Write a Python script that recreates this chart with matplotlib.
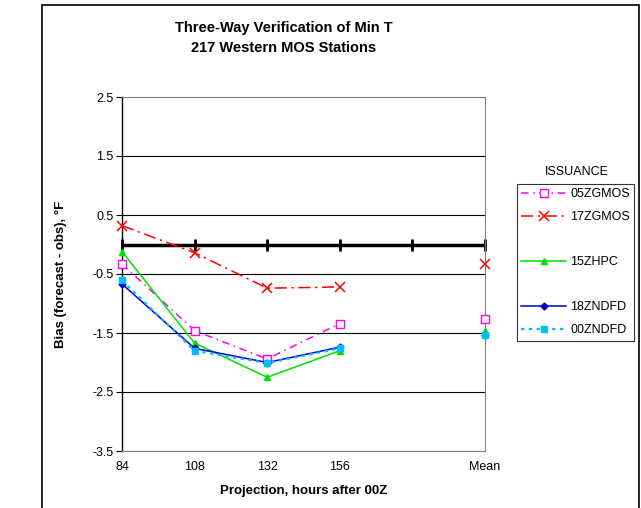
import numpy as np
import matplotlib
matplotlib.use("Agg")
import matplotlib.pyplot as plt
from matplotlib.patches import Rectangle
from matplotlib.lines import Line2D

plt.rcParams["font.family"] = ["Liberation Sans", "DejaVu Sans"]

# 数据
categories = ["84", "108", "132", "156", "", "Mean"]
gmos_05z = [-0.33, -1.46, -1.94, -1.34, np.nan, -1.26]
gmos_17z = [0.32, -0.14, -0.74, -0.72, np.nan, -0.33]
hpc_15z = [-0.12, -1.67, -2.25, -1.80, np.nan, -1.46]
ndfd_18z = [-0.67, -1.76, -2.00, -1.74, np.nan, -1.53]
ndfd_00z = [-0.61, -1.80, -2.01, -1.76, np.nan, -1.54]
y_ticks = [2.5, 1.5, 0.5, -0.5, -1.5, -2.5, -3.5]

fig = plt.figure(figsize=(6.41, 5.08), dpi=100)
ax = fig.add_axes([122 / 641, 1 - 451 / 508, (485 - 122) / 641, (451 - 97) / 508])

x = np.arange(len(categories))

# 网格线
for yv in y_ticks:
    c = "#000000" if yv not in (2.5, -3.5) else "#808080"
    ax.axhline(yv, color=c, lw=0.8, zorder=1)
# 零线及刻度
ax.axhline(0, color="black", lw=2.5, zorder=2)
ax.plot(x, np.zeros(len(x)), ls="none", marker="|", ms=9, mew=2, color="black",
        zorder=2, clip_on=False)

ax.plot(x, gmos_05z, color="#FF00FF", ls=(0, (5, 3, 1, 3)), lw=1.1, marker="s",
        mfc="white", mec="#FF00FF", ms=6, mew=1, label="05ZGMOS", zorder=4, clip_on=False)
ax.plot(x, gmos_17z, color="#FF0000", ls=(0, (8, 3, 1.5, 3)), lw=1.1, marker="x",
        ms=7, mew=1.1, label="17ZGMOS", zorder=4, clip_on=False)
ax.plot(x, hpc_15z, color="#00E000", ls="-", lw=1.1, marker="^", ms=5,
        label="15ZHPC", zorder=4, clip_on=False)
ax.plot(x, ndfd_18z, color="#0000CC", ls="-", lw=1.1, marker="D", ms=3.5,
        label="18ZNDFD", zorder=4, clip_on=False)
ax.plot(x, ndfd_00z, color="#00BFFF", ls=(0, (1.5, 2)), lw=1.6, marker="s", ms=5,
        label="00ZNDFD", zorder=5, clip_on=False)

ax.set_xlim(0, 5)
ax.set_ylim(-3.5, 2.5)
ax.set_xticks(x)
ax.set_xticklabels(categories, fontsize=9)
ax.tick_params(axis="x", length=0, pad=7)
ax.set_yticks(y_ticks)
ax.set_yticklabels(["%.1f" % v for v in y_ticks], fontsize=9)
ax.tick_params(axis="y", direction="out", length=4, width=0.8, pad=2)

ax.spines["left"].set_color("black")
ax.spines["left"].set_linewidth(1.0)
for s in ("top", "right", "bottom"):
    ax.spines[s].set_color("#808080")
    ax.spines[s].set_linewidth(0.8)

ax.set_xlabel("Projection, hours after 00Z", fontsize=9.5, fontweight="bold", labelpad=9)
ax.set_ylabel("Bias (forecast - obs), °F", fontsize=9.5, fontweight="bold", labelpad=18)

fig.text(284 / 641, 1 - 28 / 508, "Three-Way Verification of Min T", ha="center",
         va="center", fontsize=10.5, fontweight="bold")
fig.text(284 / 641, 1 - 48 / 508, "217 Western MOS Stations", ha="center",
         va="center", fontsize=10.5, fontweight="bold")

# 图例(中间空行保留原图的间距)
h, l = ax.get_legend_handles_labels()
blank = Line2D([], [], ls="none")
handles = [h[0], h[1], blank, h[2], blank, h[3], h[4]]
labels = [l[0], l[1], "", l[2], "", l[3], l[4]]
leg = fig.legend(handles, labels, loc="upper left", bbox_to_anchor=(517 / 641, 1 - 184 / 508),
                 fontsize=9, frameon=True, fancybox=False, handlelength=3.6,
                 handletextpad=0.3, borderpad=0.35, labelspacing=0.85, borderaxespad=0)
leg.get_frame().set_edgecolor("black")
leg.get_frame().set_linewidth(0.8)
fig.text(577 / 641, 1 - 172 / 508, "ISSUANCE", ha="center", va="center", fontsize=9)

# 外框
fig.patches.append(Rectangle((42 / 641, -0.05), (639 - 42) / 641, 1 - 5 / 508 + 0.05,
                             transform=fig.transFigure, fill=False, ec="black", lw=1.2))

fig.savefig("out.png", dpi=100)
